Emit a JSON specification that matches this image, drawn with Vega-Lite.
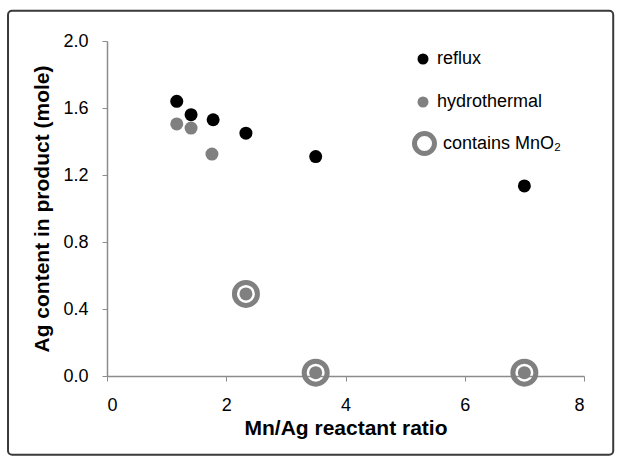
{
  "$schema": "https://vega.github.io/schema/vega-lite/v6.json",
  "width": 477,
  "height": 335,
  "autosize": "none",
  "padding": {"left": 107, "top": 41, "right": 40, "bottom": 86},
  "background": "white",
  "config": {
    "view": {"stroke": null},
    "font": "Liberation Sans",
    "axis": {
      "grid": false,
      "domainColor": "#8c8c8c",
      "domainWidth": 1.5,
      "tickColor": "#8c8c8c",
      "tickSize": 5,
      "labelColor": "#000000",
      "labelFontSize": 18,
      "labelFont": "Liberation Sans",
      "titleFont": "Liberation Sans",
      "titleFontSize": 21,
      "titleFontWeight": "bold",
      "titleColor": "#000000"
    },
    "legend": {
      "labelFont": "Liberation Sans",
      "labelFontSize": 18,
      "labelColor": "#000000",
      "padding": 0,
      "orient": "none"
    }
  },
  "data": {
    "values": [
      {"ratio": 1.17, "ag": 1.64, "method": "reflux"},
      {"ratio": 1.41, "ag": 1.56, "method": "reflux"},
      {"ratio": 1.78, "ag": 1.53, "method": "reflux"},
      {"ratio": 2.33, "ag": 1.45, "method": "reflux"},
      {"ratio": 3.5, "ag": 1.31, "method": "reflux"},
      {"ratio": 7.0, "ag": 1.135, "method": "reflux"},
      {"ratio": 1.17, "ag": 1.505, "method": "hydrothermal"},
      {"ratio": 1.41, "ag": 1.48, "method": "hydrothermal"},
      {"ratio": 1.76, "ag": 1.325, "method": "hydrothermal"},
      {"ratio": 2.33, "ag": 0.49, "method": "hydrothermal", "mno2": "contains MnO₂"},
      {"ratio": 3.5, "ag": 0.02, "method": "hydrothermal", "mno2": "contains MnO₂"},
      {"ratio": 7.0, "ag": 0.02, "method": "hydrothermal", "mno2": "contains MnO₂"}
    ]
  },
  "layer": [
    {
      "data": {"values": [{"frame": "border"}]},
      "mark": {"type": "rect", "fill": null, "stroke": "#3a3a3a", "strokeWidth": 2, "cornerRadius": 4, "clip": false},
      "encoding": {
        "x": {"datum": -1.66, "type": "quantitative", "scale": {"domain": [0, 8]}},
        "x2": {"datum": 8.49},
        "y": {"datum": 2.18, "type": "quantitative", "scale": {"domain": [0, 2]}},
        "y2": {"datum": -0.47}
      }
    },
    {
      "transform": [{"filter": "isValid(datum.mno2)"}],
      "mark": {"type": "point", "shape": "circle", "filled": false, "strokeWidth": 5, "size": 529, "opacity": 1},
      "encoding": {
        "x": {"field": "ratio", "type": "quantitative", "scale": {"domain": [0, 8]}},
        "y": {"field": "ag", "type": "quantitative", "scale": {"domain": [0, 2]}},
        "stroke": {
          "field": "mno2",
          "type": "nominal",
          "scale": {"range": ["#808080"]},
          "legend": {
            "title": null,
            "legendX": 305,
            "legendY": 90,
            "symbolType": "circle",
            "symbolSize": 400,
            "symbolStrokeWidth": 5,
            "symbolFillColor": "transparent",
            "labelOffset": 6
          }
        }
      }
    },
    {
      "mark": {"type": "point", "shape": "circle", "filled": true, "size": 169, "opacity": 1},
      "encoding": {
        "x": {
          "field": "ratio",
          "type": "quantitative",
          "title": "Mn/Ag reactant ratio",
          "scale": {"domain": [0, 8]},
          "axis": {"values": [0, 2, 4, 6, 8], "format": "d", "labelPadding": 15, "titlePadding": 3}
        },
        "y": {
          "field": "ag",
          "type": "quantitative",
          "title": "Ag content in product (mole)",
          "scale": {"domain": [0, 2]},
          "axis": {"values": [0, 0.4, 0.8, 1.2, 1.6, 2.0], "format": ".1f", "labelPadding": 14, "titlePadding": 10}
        },
        "fill": {
          "field": "method",
          "type": "nominal",
          "scale": {"domain": ["reflux", "hydrothermal"], "range": ["#000000", "#808080"]},
          "legend": {
            "title": null,
            "legendX": 307,
            "legendY": 9,
            "symbolType": "circle",
            "symbolSize": 121,
            "symbolStrokeWidth": 0,
            "rowPadding": 25,
            "labelOffset": 5
          }
        }
      }
    }
  ]
}
